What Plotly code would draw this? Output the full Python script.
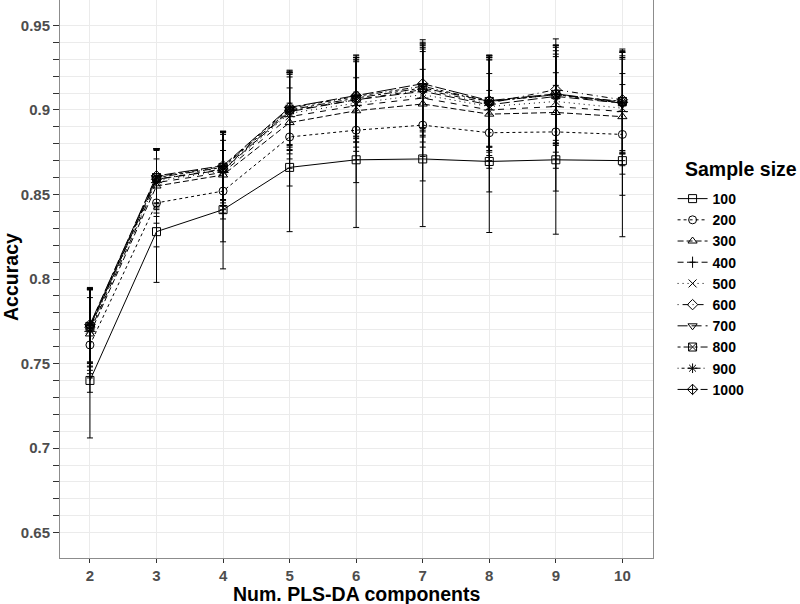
import plotly.graph_objects as go

components = [2, 3, 4, 5, 6, 7, 8, 9, 10]
sample_sizes = ["100", "200", "300", "400", "500", "600", "700", "800", "900", "1000"]

acc_100 = [0.740, 0.828, 0.841, 0.866, 0.8705, 0.871, 0.8695, 0.8705, 0.870]
sd_100 = [0.034, 0.030, 0.035, 0.038, 0.040, 0.040, 0.042, 0.044, 0.045]
acc_200 = [0.761, 0.845, 0.852, 0.884, 0.888, 0.891, 0.8865, 0.887, 0.8855]
sd_200 = [0.028, 0.026, 0.030, 0.029, 0.031, 0.033, 0.035, 0.035, 0.036]
acc_300 = [0.7675, 0.855, 0.8615, 0.8925, 0.8995, 0.9035, 0.8975, 0.8985, 0.896]
sd_300 = [0.026, 0.022, 0.026, 0.027, 0.029, 0.031, 0.032, 0.033, 0.034]
acc_400 = [0.769, 0.857, 0.863, 0.896, 0.9025, 0.907, 0.900, 0.902, 0.899]
sd_400 = [0.025, 0.020, 0.024, 0.025, 0.027, 0.029, 0.030, 0.031, 0.032]
acc_500 = [0.770, 0.858, 0.864, 0.898, 0.904, 0.909, 0.902, 0.905, 0.901]
sd_500 = [0.024, 0.019, 0.023, 0.024, 0.026, 0.028, 0.029, 0.030, 0.031]
acc_600 = [0.7715, 0.859, 0.865, 0.8995, 0.906, 0.912, 0.904, 0.912, 0.906]
sd_600 = [0.023, 0.018, 0.022, 0.023, 0.025, 0.027, 0.028, 0.030, 0.030]
acc_700 = [0.771, 0.859, 0.8645, 0.899, 0.906, 0.911, 0.903, 0.908, 0.904]
sd_700 = [0.023, 0.017, 0.021, 0.023, 0.025, 0.027, 0.028, 0.029, 0.030]
acc_800 = [0.772, 0.860, 0.866, 0.900, 0.907, 0.913, 0.905, 0.909, 0.905]
sd_800 = [0.022, 0.017, 0.021, 0.022, 0.024, 0.026, 0.027, 0.029, 0.030]
acc_900 = [0.7725, 0.8605, 0.8665, 0.901, 0.908, 0.914, 0.905, 0.909, 0.904]
sd_900 = [0.022, 0.016, 0.020, 0.022, 0.024, 0.026, 0.027, 0.029, 0.030]
acc_1000 = [0.773, 0.861, 0.867, 0.9015, 0.9085, 0.9155, 0.9055, 0.9095, 0.9045]
sd_1000 = [0.022, 0.016, 0.020, 0.022, 0.024, 0.026, 0.027, 0.029, 0.030]

y_tick_vals = [0.65, 0.66, 0.67, 0.68, 0.69, 0.70, 0.71, 0.72, 0.73, 0.74, 0.75,
               0.76, 0.77, 0.78, 0.79, 0.80, 0.81, 0.82, 0.83, 0.84, 0.85,
               0.86, 0.87, 0.88, 0.89, 0.90, 0.91, 0.92, 0.93, 0.94, 0.95]
y_tick_labels = ["0.65", "", "", "", "", "0.7", "", "", "", "", "0.75",
                 "", "", "", "", "0.8", "", "", "", "", "0.85",
                 "", "", "", "", "0.9", "", "", "", "", "0.95"]

means = [acc_100, acc_200, acc_300, acc_400, acc_500, acc_600, acc_700, acc_800, acc_900, acc_1000]
sds = [sd_100, sd_200, sd_300, sd_400, sd_500, sd_600, sd_700, sd_800, sd_900, sd_1000]

symbols = ["square-open", "circle-open", "triangle-up-open", "cross-thin-open", "x-thin-open",
           "diamond-open", "triangle-down-open", "square-x-open", "asterisk-open", "diamond-cross-open"]
dashes = ["solid", "3px,3px", "6px,3px", "6px,6px", "1px,4px", "1px,4px,6px,4px",
          "10px,4px", "3px,3px,8px,3px", "1px,3px,3px,3px,4px,3px,6px,3px", "20px,3px,11px,3px"]

fig = go.Figure()
for name, m, s, sym, dash in zip(sample_sizes, means, sds, symbols, dashes):
    fig.add_trace(go.Scatter(
        x=components, y=m, name=name, mode="lines+markers",
        line=dict(color="black", width=1, dash=dash),
        marker=dict(symbol=sym, size=8, color="black", line=dict(color="black", width=1)),
        error_y=dict(type="data", array=s, visible=True, color="black", thickness=1, width=3),
    ))

FONT = "Liberation Sans, Arial, sans-serif"
fig.update_layout(
    width=800, height=604,
    margin=dict(l=60, r=147, t=0, b=46),
    paper_bgcolor="white", plot_bgcolor="white",
    font=dict(family=FONT, color="black"),
    showlegend=True,
    legend=dict(
        font=dict(size=14, color="black", weight="bold"),
        x=1.033, xanchor="left", y=0.672, yanchor="top",
        tracegroupgap=0, itemwidth=30, bgcolor="rgba(0,0,0,0)",
    ),
    annotations=[
        dict(text="<b>Num. PLS-DA components</b>", xref="paper", yref="paper",
             x=0.5, y=(558 - 594) / 558, xanchor="center", yanchor="middle", showarrow=False,
             font=dict(size=19.5, color="black", family=FONT)),
        dict(text="<b>Accuracy</b>", xref="paper", yref="paper",
             x=(11 - 60) / 593, y=0.5036, xanchor="center", yanchor="middle", showarrow=False,
             textangle=-90, font=dict(size=19.5, color="black", family=FONT)),
        dict(text="<b>Sample size</b>", xref="paper", yref="paper",
             x=(683 - 60) / 593, y=(558 - 169) / 558, xanchor="left", yanchor="middle",
             showarrow=False, font=dict(size=19.5, color="black", family=FONT)),
    ],
)
fig.update_xaxes(
    range=[1.55, 10.46], tickvals=components, ticktext=[str(c) for c in components],
    showgrid=True, gridcolor="#EBEBEB", gridwidth=1, zeroline=False,
    showline=True, mirror=True, linecolor="#8C8C8C", linewidth=1,
    ticks="outside", ticklen=4, tickcolor="#333333",
    tickfont=dict(size=15, color="#4D4D4D", weight="bold"),
)
fig.update_yaxes(
    range=[0.635, 0.965], tickvals=y_tick_vals, ticktext=y_tick_labels,
    showgrid=True, gridcolor="#EBEBEB", gridwidth=1, zeroline=False,
    showline=True, mirror=True, linecolor="#8C8C8C", linewidth=1,
    ticks="outside", ticklen=6, tickcolor="#333333",
    tickfont=dict(size=15, color="#4D4D4D", weight="bold"),
)

fig.write_html(
    "out.html",
    config={"displayModeBar": False},
    post_script="document.body.style.margin='0';document.body.style.padding='0';",
)
